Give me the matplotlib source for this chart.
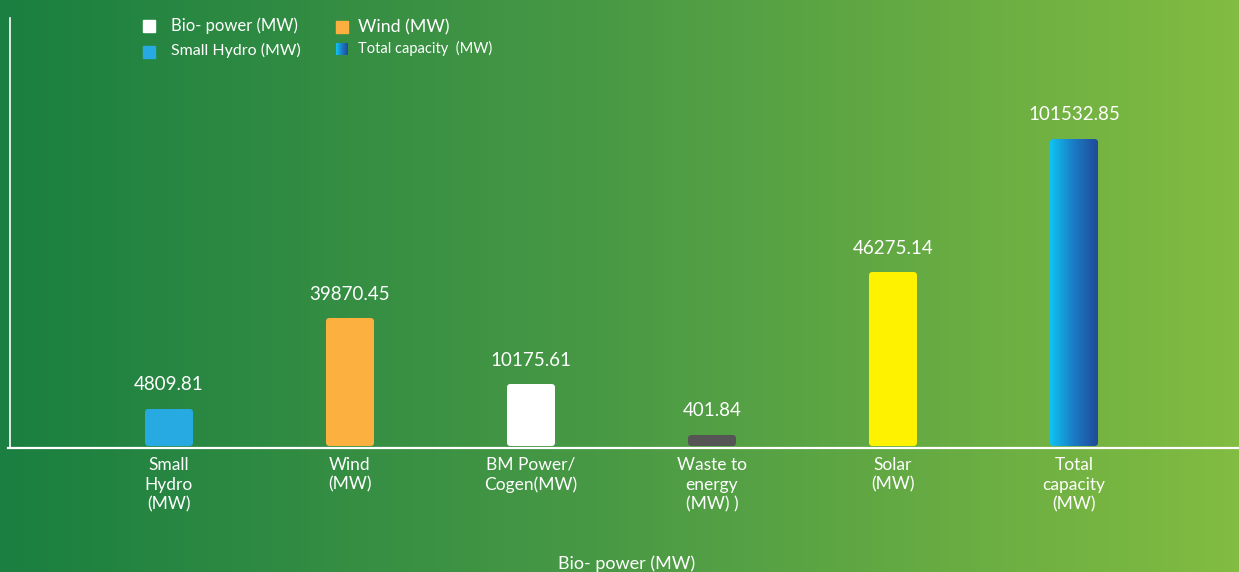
import matplotlib.pyplot as plt
import numpy as np
from matplotlib.patches import FancyBboxPatch, Rectangle
from matplotlib.colors import LinearSegmentedColormap

plt.rcParams['font.family'] = ['Lato', 'DejaVu Sans']

# Datos del gráfico
categories = ['Small\nHydro\n(MW)', 'Wind\n(MW)', 'BM Power/\nCogen(MW)',
              'Waste to\nenergy\n(MW) )', 'Solar\n(MW)', 'Total\ncapacity\n(MW)']
values = [4809.81, 39870.45, 10175.61, 401.84, 46275.14, 101532.85]
# alturas dibujadas en el original (no proporcionales a los valores)
bar_heights = [37, 128, 62, 11, 174, 307]
bar_colors = ['#27aae1', '#fbb040', '#ffffff', '#555555', '#fff200', None]

W, H = 1239, 572
fig = plt.figure(figsize=(W / 100, H / 100), dpi=100)
ax = fig.add_axes([0, 0, 1, 1])
ax.set_xlim(-169 / 181, (W - 169) / 181)
ax.set_ylim(-124, H - 124)
ax.axis('off')

# Fondo degradado verde
bg = LinearSegmentedColormap.from_list('bg', ['#1a7f40', '#4a9a45', '#82bc41'])
ax.imshow(np.linspace(0, 1, 256).reshape(1, -1), cmap=bg, aspect='auto',
          extent=(*ax.get_xlim(), *ax.get_ylim()), zorder=0)

# Ejes dibujados a mano
ax.plot([-169 / 181 + 10 / 181] * 2, [0, 430], color='white', lw=1.2, zorder=1)
ax.plot([-169 / 181 + 8 / 181, ax.get_xlim()[1]], [0, 0], color='white', lw=1.6, zorder=1)

bar_w = 48 / 181
total_cmap = LinearSegmentedColormap.from_list('tot', ['#10c3f2', '#1a7bc4', '#214a98'])
for i, (h, c, v) in enumerate(zip(bar_heights, bar_colors, values)):
    x0 = i - bar_w / 2
    patch = FancyBboxPatch((x0, 2), bar_w, h,
                           boxstyle='round,pad=0,rounding_size=%f' % (3.5 / 181),
                           mutation_aspect=181, lw=0,
                           facecolor=c if c else 'none', zorder=2)
    ax.add_patch(patch)
    if c is None:
        im = ax.imshow(np.linspace(0, 1, 128).reshape(1, -1), cmap=total_cmap,
                       aspect='auto', extent=(x0, x0 + bar_w, 2, 2 + h), zorder=2)
        im.set_clip_path(patch)
    ax.text(i, h + 2 + 24, f'{v:.2f}', ha='center', va='center',
            color='white', fontsize=13.5, zorder=3)
    ax.text(i, -9, categories[i], ha='center', va='top', color='white',
            fontsize=12.5, linespacing=1.28, zorder=3)

ax.text((627 - 169) / 181, -116, 'Bio- power (MW)', ha='center', va='center',
        color='white', fontsize=13, zorder=3)

# Leyenda manual
def fx(px):
    return px / W

def fy(py):
    return 1 - py / H

sq = 12
fig.patches.append(Rectangle((fx(143), fy(32)), sq / W, sq / H, color='white',
                             transform=fig.transFigure, figure=fig))
fig.patches.append(Rectangle((fx(143), fy(58)), sq / W, sq / H, color='#27aae1',
                             transform=fig.transFigure, figure=fig))
fig.patches.append(Rectangle((fx(336), fy(33)), sq / W, sq / H, color='#fbb040',
                             transform=fig.transFigure, figure=fig))
lax = fig.add_axes([fx(336), fy(55), sq / W, sq / H])
lax.imshow(np.linspace(0, 1, 64).reshape(1, -1), cmap=total_cmap, aspect='auto')
lax.axis('off')

fig.text(fx(171), fy(26), 'Bio- power (MW)', color='white', fontsize=12, va='center')
fig.text(fx(171), fy(50), 'Small Hydro (MW)', color='white', fontsize=11.5, va='center')
fig.text(fx(358), fy(27), 'Wind (MW)', color='white', fontsize=12.8, va='center')
fig.text(fx(358), fy(48), 'Total capacity  (MW)', color='white', fontsize=10.5, va='center')

fig.savefig('out.png', dpi=100)
